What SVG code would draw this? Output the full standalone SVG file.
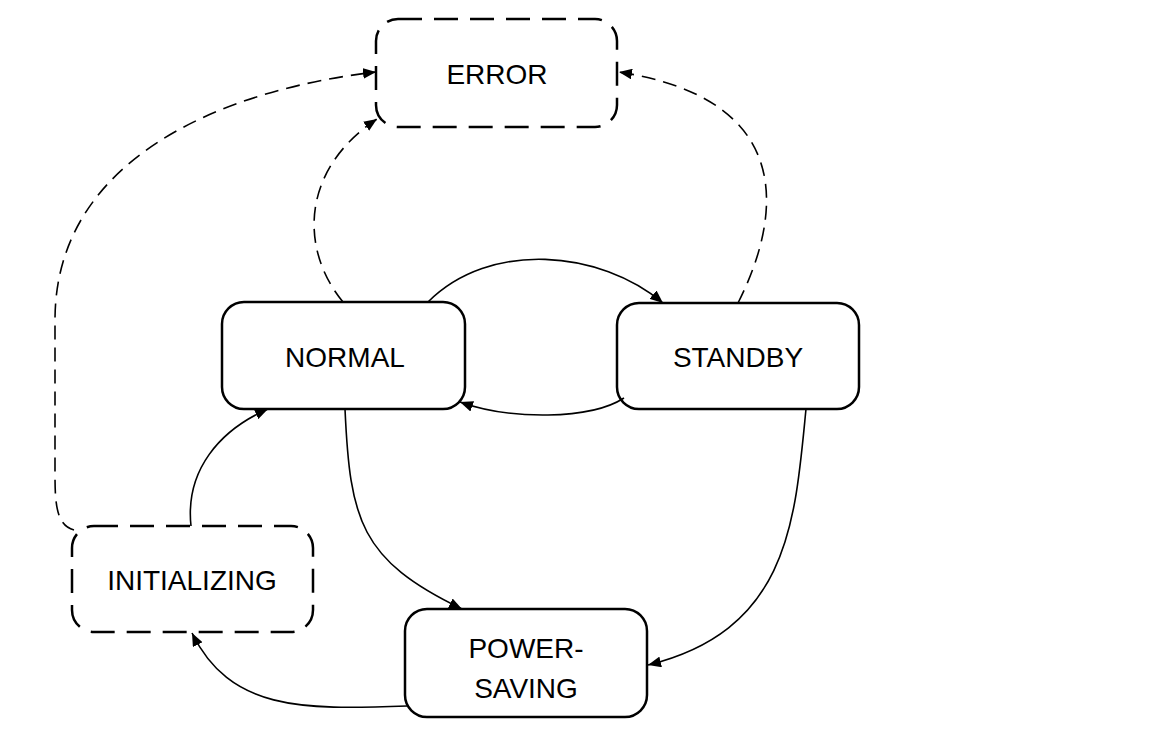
<svg xmlns="http://www.w3.org/2000/svg" width="1152" height="742" viewBox="0 0 1152 742">
<style>
.n{fill:#fff;stroke:#000;stroke-width:2.5}
.d{stroke-dasharray:24,12}
.t{font-family:"Liberation Sans",Arial,sans-serif;font-size:28px;text-anchor:middle;fill:#000}
.c{fill:none;stroke:#000;stroke-width:1.6;marker-end:url(#a)}
.cd{stroke-dasharray:14,8}
</style>
<defs><marker id="a" viewBox="0 0 12 10" refX="12" refY="5" markerWidth="13" markerHeight="11" markerUnits="userSpaceOnUse" orient="auto"><path d="M0,0L12,5L0,10z" fill="#000"/></marker></defs>
<rect width="1152" height="742" fill="#fff"/>
<g id="error"><rect class="n d" x="376" y="19" width="241" height="108" rx="22"/><text class="t" x="497" y="84">ERROR</text></g>
<g id="normal"><rect class="n" x="222" y="302" width="243" height="107" rx="22"/><text class="t" x="345" y="367">NORMAL</text></g>
<g id="standby"><rect class="n" x="617" y="303" width="242" height="106" rx="22"/><text class="t" x="738" y="367">STANDBY</text></g>
<g id="initializing"><rect class="n d" x="72" y="526" width="241" height="106" rx="22"/><text class="t" x="192" y="590">INITIALIZING</text></g>
<g id="power-saving"><rect class="n" x="405" y="609" width="242" height="108" rx="22"/><text class="t" x="526" y="658">POWER-</text><text class="t" x="526" y="698">SAVING</text></g>
<g id="connectors">
<path class="c cd" d="M74,530 C55,525 55,500 55,470 L55,320 C55,160 220,90 376,72"/>
<path class="c cd" d="M343,302 C300,250 300,170 377,119"/>
<path class="c cd" d="M738,303 C780,220 800,100 619,72"/>
<path class="c" d="M428,302 C490,240 600,250 663,303"/>
<path class="c" d="M624,398 C590,420 510,420 460,402"/>
<path class="c" d="M191,526 C185,470 220,430 268,409"/>
<path class="c" d="M345,409 C350,520 360,560 462,609"/>
<path class="c" d="M806,409 C795,520 790,630 648,665"/>
<path class="c" d="M407,706 C300,710 230,710 192,633"/>
</g>
</svg>
